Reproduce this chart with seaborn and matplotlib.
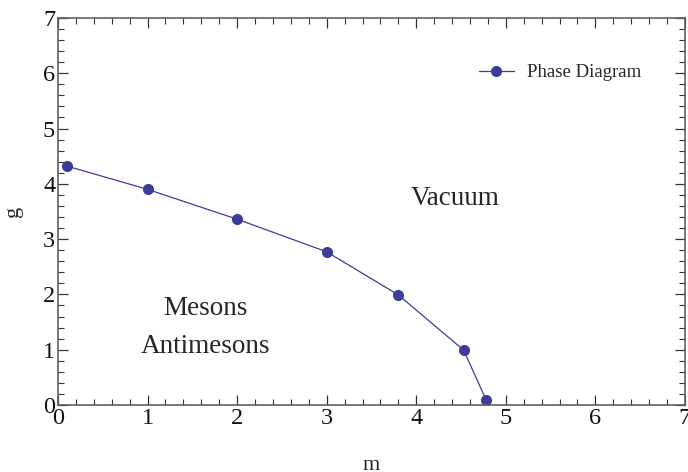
import matplotlib
matplotlib.use("Agg")
import matplotlib.pyplot as plt
from matplotlib.ticker import MultipleLocator
import seaborn as sns
import pandas as pd

# Critical line of the phase diagram (mass m vs coupling g)
m_vals = [0.1, 1.0, 2.0, 3.0, 3.8, 4.53, 4.78]
g_vals = [4.32, 3.90, 3.36, 2.77, 1.99, 0.99, 0.09]
series_name = "Phase Diagram"

df = pd.DataFrame({"m": m_vals, "g": g_vals, "series": series_name})

sns.set_style("ticks")
plt.rcParams["font.family"] = ["Liberation Serif", "DejaVu Serif"]

line_color = "#3d3d99"
frame_color = "#606060"

fig = plt.figure(figsize=(6.88, 4.72), dpi=100)
ax = fig.add_axes([0.0843, 0.142, 0.9113, 0.820])

sns.lineplot(data=df, x="m", y="g", hue="series", palette=[line_color],
             marker="o", markersize=8, markeredgewidth=0, linewidth=0.9,
             ax=ax, legend=True)

ax.set_xlim(0, 7)
ax.set_ylim(0, 7)
ax.xaxis.set_major_locator(MultipleLocator(1))
ax.xaxis.set_minor_locator(MultipleLocator(0.2))
ax.yaxis.set_major_locator(MultipleLocator(1))
ax.yaxis.set_minor_locator(MultipleLocator(0.2))

for side in ["top", "right", "bottom", "left"]:
    ax.spines[side].set_visible(True)
    ax.spines[side].set_color(frame_color)
    ax.spines[side].set_linewidth(1.2)

ax.tick_params(which="both", direction="in", top=True, right=True,
               color="#333333", labelsize=17.5, labelcolor="#111111")
ax.tick_params(which="major", length=7, width=0.9, pad=2)
ax.tick_params(which="minor", length=4, width=0.8)

ax.set_xlabel("m", fontsize=16, va="top")
ax.xaxis.set_label_coords(0.5, -0.133)
ax.set_ylabel("g", fontsize=16, va="center")
ax.yaxis.set_label_coords(-0.071, 0.5)

ax.text(4.43, 3.74, "Vacuum", fontsize=19.5, ha="center", va="center")
ax.text(1.65, 1.74, "Mesons", fontsize=19.5, ha="center", va="center")
ax.text(1.65, 1.05, "Antimesons", fontsize=19.5, ha="center", va="center")

leg = ax.legend(loc="center left", bbox_to_anchor=(0.671, 0.858), frameon=False,
                fontsize=13.5, handlelength=1.87, handletextpad=0.7,
                borderpad=0, borderaxespad=0)

fig.savefig("out.png", dpi=100)
